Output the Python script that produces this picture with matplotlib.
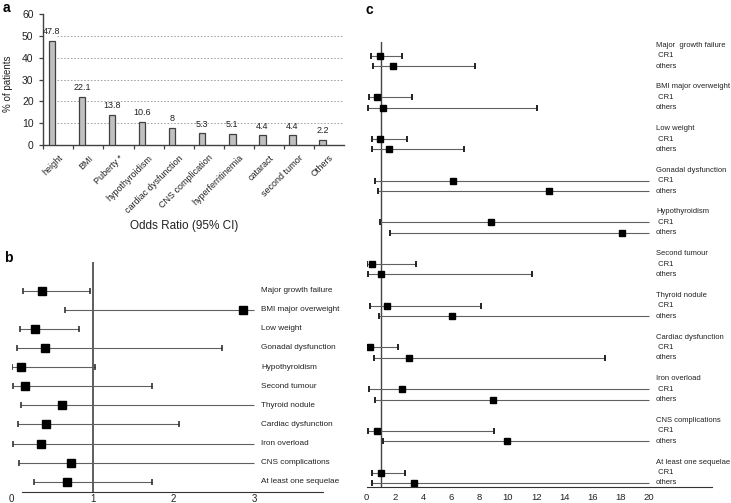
import numpy as np
import matplotlib
matplotlib.use('Agg')
import matplotlib.pyplot as plt
from matplotlib import font_manager

# ---- data -------------------------------------------------------------
#panel a : % of patients with each late effect
a_categories = ['height', 'BMI', 'Puberty *', 'hypothyroidism', 'cardiac dysfunction',
                'CNS complication', 'hyperferritinemia', 'cataract', 'second tumor', 'Others']
a_values = [47.8, 22.1, 13.8, 10.6, 8, 5.3, 5.1, 4.4, 4.4, 2.2]

#panel b : odds ratios (inf = upper limit off the scale)
b_labels = ['Major growth failure', 'BMI major overweight', 'Low weight', 'Gonadal dysfunction',
            'Hypothyroidism', 'Second tumour', 'Thyroid nodule', 'Cardiac dysfunction',
            'Iron overload', 'CNS complications', 'At least one sequelae']
b_or = [0.37, 2.86, 0.29, 0.41, 0.11, 0.16, 0.62, 0.43, 0.36, 0.74, 0.69]
b_lo = [0.14, 0.66, 0.10, 0.06, 0.00, 0.01, 0.12, 0.08, 0.02, 0.09, 0.27]
b_hi = [0.97, np.inf, 0.83, 2.60, 1.03, 1.74, np.inf, 2.07, np.inf, np.inf, 1.74]

#panel c : odds ratios by group, CR1 vs others
c_groups = ['Major  growth failure', 'BMI major overweight', 'Low weight', 'Gonadal dysfunction',
            'Hypothyroidism', 'Second tumour', 'Thyroid nodule', 'Cardiac dysfunction',
            'Iron overload', 'CNS complications', 'At least one sequelae']
c_cr1_or = [0.92, 0.76, 0.97, 6.14, 8.83, 0.35, 1.46, 0.24, 2.53, 0.76, 1.04]
c_cr1_lo = [0.31, 0.17, 0.35, 0.59, 0.97, 0.00, 0.24, 0.00, 0.19, 0.07, 0.40]
c_cr1_hi = [2.48, 3.23, 2.86, np.inf, np.inf, 3.49, 8.10, 2.22, np.inf, 9.00, 2.74]
c_oth_or = [1.89, 1.18, 1.58, 12.94, 18.11, 0.99, 6.02, 2.98, 8.97, 9.92, 3.38]
c_oth_lo = [0.43, 0.12, 0.35, 0.78, 1.65, 0.12, 0.90, 0.52, 0.61, 1.18, 0.35]
c_oth_hi = [7.67, 12.04, 6.89, np.inf, np.inf, 11.74, np.inf, 16.91, np.inf, np.inf, np.inf]

# ---- style ------------------------------------------------------------
names = {f.name for f in font_manager.fontManager.ttflist}
narrow = 'Liberation Sans Narrow' if 'Liberation Sans Narrow' in names else 'Liberation Sans'
plt.rcParams['font.family'] = 'Liberation Sans'

text_color = '#222222'
bar_color = '#c0c0c0'
bar_edge = '#404040'
ci_color = '#606060'
W, H = 731, 503

fig = plt.figure(figsize=(W / 100, H / 100), dpi=100)

def box(l, t, r, b):
    #pixel box -> figure fraction
    return [l / W, 1 - b / H, (r - l) / W, (b - t) / H]

# ---- panel a ----------------------------------------------------------
ax_a = fig.add_axes(box(43.3, 14, 344, 145))
xa = np.arange(len(a_values))
bars = ax_a.bar(xa, a_values, width=0.22, color=bar_color, edgecolor=bar_edge, lw=0.9, zorder=3)
ax_a.bar_label(bars, labels=[f'{v:g}' for v in a_values], padding=3.5, fontsize=6.5, color=text_color)
ax_a.set_xlim(-0.283, len(a_values) - 0.283)
ax_a.set_ylim(0, 60)
ax_a.set_yticks(range(0, 61, 10))
ax_a.hlines(ax_a.get_yticks()[1:-1], 0.17, len(a_values) - 0.283, color='#999999',
            lw=0.6, ls=(0, (2, 2)), zorder=1)
ax_a.set_xticks(xa - 0.283)
ax_a.set_xticklabels([])
ax_a.set_xticks(xa + 0.217, minor=True)
ax_a.set_xticklabels(a_categories, minor=True, rotation=45, ha='right',
                     rotation_mode='anchor', fontsize=6.5, color=text_color)
ax_a.tick_params(axis='x', which='minor', length=0, pad=6)
ax_a.tick_params(axis='x', which='major', length=3, width=0.9, color=bar_edge)
ax_a.tick_params(axis='y', length=3, width=0.9, color=bar_edge, labelsize=7.5,
                 labelcolor=text_color, pad=4)
for s in ['top', 'right']:
    ax_a.spines[s].set_visible(False)
for s in ['left', 'bottom']:
    ax_a.spines[s].set_color(bar_edge)
    ax_a.spines[s].set_linewidth(1.0)
ax_a.set_ylabel('% of patients', fontsize=7, color=text_color)
ax_a.yaxis.set_label_coords((13 - 43.3) / 300.7, (145 - 84) / 131)

fig.text(184 / W, 1 - 226 / H, 'Odds Ratio (95% CI)', ha='center', va='center',
         fontsize=8.5, color=text_color)

# ---- panel b ----------------------------------------------------------
ax_b = fig.add_axes(box(11.7, 262, 323, 491.7))
yb = -np.arange(len(b_labels))
b_hi = np.array(b_hi)
ax_b.set_xlim(0, (323 - 11.7) / 80.8)
ax_b.set_ylim(-10.52, 1.50)
ax_b.axvline(1, color='#333333', lw=1.1)
ax_b.hlines(yb, b_lo, np.minimum(b_hi, 3.0), color=ci_color, lw=0.8)
ax_b.plot(b_lo, yb, '|', color='#222222', ms=4, mew=1.1)
fin = np.isfinite(b_hi)
ax_b.plot(b_hi[fin], yb[fin], '|', color='#222222', ms=4, mew=1.1)
ax_b.plot(b_or, yb, 's', color='black', ms=5.3)
for y, lab in zip(yb, b_labels):
    ax_b.text(3.09, y, lab, va='center', fontsize=5.9, family=narrow, color=text_color)
for s in ['top', 'right', 'left']:
    ax_b.spines[s].set_visible(False)
ax_b.spines['bottom'].set_bounds(0.127, (323 - 11.7) / 80.8)
ax_b.spines['bottom'].set_color('#333333')
ax_b.set_xticks([0, 1, 2, 3])
ax_b.set_yticks([])
ax_b.tick_params(axis='x', length=0, pad=2, labelsize=7, labelcolor=text_color)

# ---- panel c ----------------------------------------------------------
ax_c = fig.add_axes(box(366.7, 42, 711.7, 487.3))
yc = -4 * np.arange(len(c_groups))
ax_c.set_xlim(0, 345 / 14.12)
ax_c.set_ylim(-41.42, 1.31)
ax_c.axvline(1, color='#444444', lw=1.0)
for y, est, lo, hi in [(yc, c_cr1_or, c_cr1_lo, c_cr1_hi), (yc - 1, c_oth_or, c_oth_lo, c_oth_hi)]:
    hi = np.array(hi)
    ax_c.hlines(y, lo, np.minimum(hi, 20.0), color=ci_color, lw=0.8)
    ax_c.plot(lo, y, '|', color='#222222', ms=5, mew=1.4)
    fin = np.isfinite(hi)
    ax_c.plot(hi[fin], y[fin], '|', color='#222222', ms=5, mew=1.4)
    ax_c.plot(est, y, 's', color='black', ms=4.5)
for y, g in zip(yc, c_groups):
    ax_c.text(20.49, y + 1, g, va='center', fontsize=5.5, family=narrow, color=text_color)
    ax_c.text(20.49, y, ' CR1', va='center', fontsize=5.5, family=narrow, color=text_color)
    ax_c.text(20.49, y - 1, 'others', va='center', fontsize=5.5, family=narrow, color=text_color)
for s in ['top', 'right', 'left']:
    ax_c.spines[s].set_visible(False)
ax_c.spines['bottom'].set_color('#333333')
ax_c.set_xticks(range(0, 21, 2))
ax_c.set_yticks([])
ax_c.tick_params(axis='x', length=0, pad=4, labelsize=6.8, labelcolor=text_color)

# ---- panel letters ----------------------------------------------------
fig.text(3 / W, 1 - 1 / H, 'a', fontsize=10, fontweight='bold', va='top')
fig.text(4 / W, 1 - 251 / H, 'b', fontsize=10, fontweight='bold', va='top')
fig.text(365 / W, 1 - 3 / H, 'c', fontsize=10, fontweight='bold', va='top')

fig.savefig('out.png', dpi=100)
